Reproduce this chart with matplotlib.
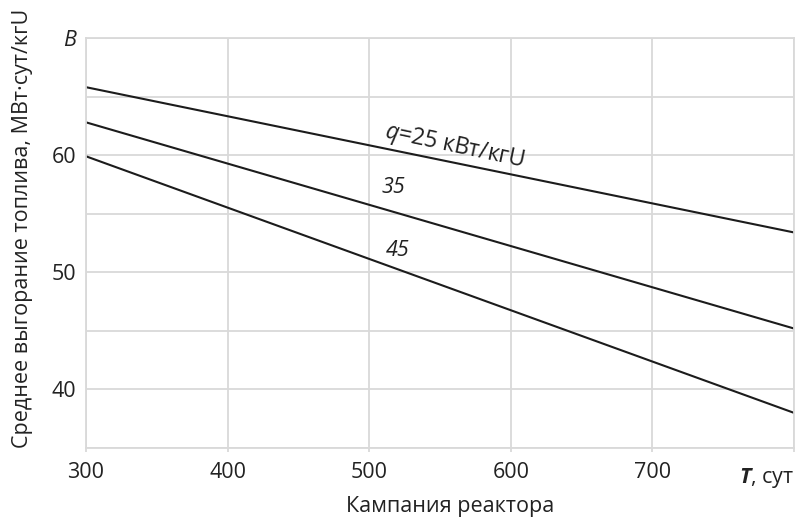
import numpy as np
import matplotlib.pyplot as plt

plt.rcParams['font.family'] = ['Open Sans', 'DejaVu Sans']
plt.rcParams['mathtext.fontset'] = 'custom'
plt.rcParams['mathtext.rm'] = 'Open Sans'
plt.rcParams['mathtext.it'] = 'Open Sans:italic'
plt.rcParams['mathtext.bf'] = 'Open Sans:bold'
plt.rcParams['mathtext.bfit'] = 'Open Sans:italic:bold'

# Data
campaign = [300, 800]
burnup_q25 = [65.8, 53.4]
burnup_q35 = [62.8, 45.2]
burnup_q45 = [59.9, 38.0]

x_ticks = [300, 400, 500, 600, 700, 800]
x_labels = ['300', '400', '500', '600', '700', '']
y_ticks = [40, 50, 60, 70]
y_labels = ['40', '50', '60', 'B']

grid_c = '#d9d9d9'
line_c = '#1c1c1c'
text_c = '#222222'
fs = 15.5

fig = plt.figure(figsize=(7.98, 5.19), dpi=100)
ax = fig.add_axes([0.1078, 0.1368, 0.8872, 0.79])

ax.plot(campaign, burnup_q25, color=line_c, lw=1.5)
ax.plot(campaign, burnup_q35, color=line_c, lw=1.5)
ax.plot(campaign, burnup_q45, color=line_c, lw=1.5)

ax.set_xlim(300, 800)
ax.set_ylim(35, 70)

# Grid
ax.set_xticks(x_ticks)
ax.set_xticklabels(x_labels)
ax.set_yticks(y_ticks)
ax.set_yticklabels(y_labels)
ax.set_yticks([35, 45, 55, 65], minor=True)
ax.grid(True, which='both', color=grid_c, lw=1.3)
ax.set_axisbelow(True)
for s in ax.spines.values():
    s.set_color(grid_c)
    s.set_linewidth(1.3)

ax.tick_params(axis='x', length=3, color=grid_c, width=1.3, pad=7, labelsize=fs, labelcolor=text_c)
ax.tick_params(axis='y', which='both', length=0, pad=7, labelsize=fs, labelcolor=text_c)
ax.get_yticklabels()[-1].set_style('italic')

# T, сут label at the end of the x axis
ax.text(1.0, -0.043, r'$\mathbfit{T}$, сут', transform=ax.transAxes, ha='right', va='top',
        fontsize=fs, color=text_c)

ax.set_xlabel('Кампания реактора', fontsize=fs, color=text_c)
ax.xaxis.set_label_coords(0.514, -0.117)
ax.set_ylabel('Среднее выгорание топлива, МВт·сут/кгU', fontsize=fs, color=text_c)
ax.yaxis.set_label_coords(-0.075, 0.535)

# Curve labels
ax.text(560, 60.75, r'$q$=25 кВт/кгU', fontsize=16.5, rotation=-12, ha='center', va='center', color=text_c)
ax.text(517, 57.2, '35', fontsize=fs, style='italic', ha='center', va='center', color=text_c)
ax.text(520, 51.9, '45', fontsize=fs, style='italic', ha='center', va='center', color=text_c)

fig.savefig('out.png', dpi=100)
